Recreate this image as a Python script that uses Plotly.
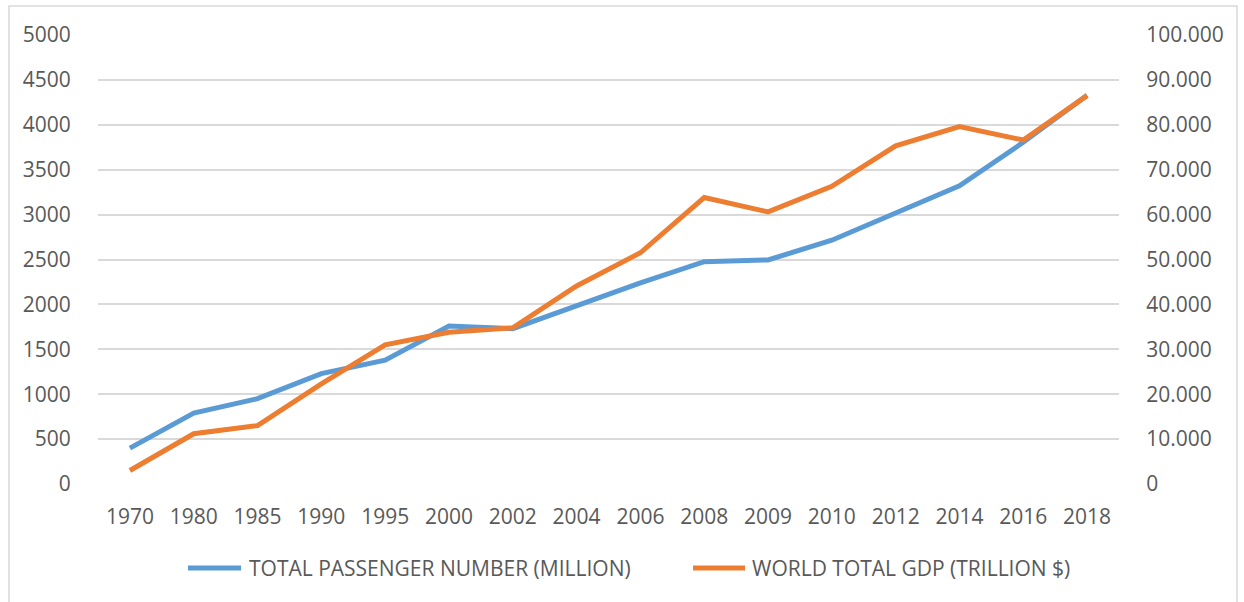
import plotly.graph_objects as go

years = ["1970", "1980", "1985", "1990", "1995", "2000", "2002", "2004",
         "2006", "2008", "2009", "2010", "2012", "2014", "2016", "2018"]
passengers = [400, 790, 950, 1230, 1380, 1760, 1730, 1980,
              2240, 2475, 2495, 2715, 3020, 3320, 3805, 4330]
gdp = [3.0, 11.2, 13.0, 22.3, 31.0, 33.8, 34.8, 44.1,
       51.5, 63.8, 60.6, 66.3, 75.3, 79.6, 76.6, 86.5]

series_names = ["TOTAL PASSENGER NUMBER (MILLION)", "WORLD TOTAL GDP (TRILLION $)"]

left_ticks = list(range(0, 5001, 500))
right_ticks = list(range(0, 101, 10))
right_labels = ["0"] + [f"{v}.000" for v in right_ticks[1:]]

BLUE = "#5B9BD5"
ORANGE = "#ED7D31"
TEXT = "#595959"
GRID = "#D9D9D9"
FONT = "Open Sans"
FS = 21

fig = go.Figure()
fig.add_trace(go.Scatter(
    x=years, y=passengers, mode="lines", name=series_names[0],
    line=dict(color=BLUE, width=5), yaxis="y"))
fig.add_trace(go.Scatter(
    x=years, y=gdp, mode="lines", name=series_names[1],
    line=dict(color=ORANGE, width=5), yaxis="y2"))

# legend drawn below the plot: a line swatch followed by its label
legend_y = -0.187
legend_items = [
    (0.0881, 0.1401, 0.1459, BLUE, series_names[0]),
    (0.5828, 0.6337, 0.6386, ORANGE, series_names[1]),
]
shapes = [dict(type="rect", xref="paper", yref="paper",
               x0=-0.0872, x1=1.1156, y0=-0.3, y1=1.0646,
               line=dict(color=GRID, width=1.5), layer="below")]
annotations = []
for x0, x1, xt, color, label in legend_items:
    shapes.append(dict(type="line", xref="paper", yref="paper",
                       x0=x0, x1=x1, y0=legend_y, y1=legend_y,
                       line=dict(color=color, width=5)))
    annotations.append(dict(xref="paper", yref="paper", x=xt, y=legend_y,
                            xanchor="left", yanchor="middle", showarrow=False,
                            text=label, font=dict(size=FS, color=TEXT)))

fig.update_layout(
    width=1244, height=602,
    margin=dict(l=98, r=125, t=35, b=118),
    paper_bgcolor="white", plot_bgcolor="white",
    font=dict(family=FONT, size=FS, color=TEXT),
    showlegend=False,
    xaxis=dict(type="category", range=[-0.5, len(years) - 0.5],
               showgrid=False, showline=False, zeroline=False,
               ticks="outside", ticklen=14, tickcolor="rgba(0,0,0,0)",
               tickfont=dict(size=FS, color=TEXT)),
    yaxis=dict(range=[0, 5000], tickvals=left_ticks, showgrid=True, gridcolor=GRID,
               gridwidth=1.5, zeroline=False, showline=False,
               ticks="outside", ticklen=22, tickcolor="rgba(0,0,0,0)",
               tickfont=dict(size=FS, color=TEXT)),
    yaxis2=dict(range=[0, 100], tickvals=right_ticks, ticktext=right_labels,
                overlaying="y", side="right", showgrid=False, zeroline=False,
                showline=False, ticks="outside", ticklen=22,
                tickcolor="rgba(0,0,0,0)", tickfont=dict(size=FS, color=TEXT)),
    shapes=shapes,
    annotations=annotations,
)

fig.write_html("out.html")
